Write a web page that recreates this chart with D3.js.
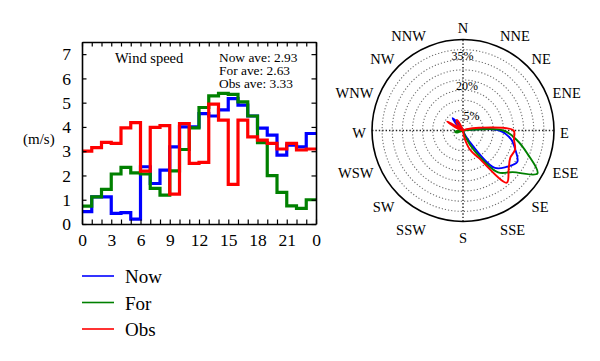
<!DOCTYPE html>
<html>
<head>
<meta charset="utf-8">
<script src="https://cdn.jsdelivr.net/npm/d3@7"></script>
<style>
body { margin: 0; background: #fff; }
text { font-family: "Liberation Serif", "Times New Roman", serif; fill: #000; }
</style>
</head>
<body>
<div id="chart"></div>
<script>
const width = 600;
const height = 361;

// hourly wind speed (m/s), hours 0..23
const hours = d3.range(24);
const nowSpeed = [0.51, 1.12, 1.12, 0.44, 0.47, 0.2, 2.36, 1.67, 2.22, 3.18, 4.0, 4.0,
                  4.55, 4.45, 4.7, 5.17, 4.9, 4.45, 3.95, 3.66, 2.84, 3.25, 3.18, 3.73];
const forSpeed = [0.74, 1.12, 1.43, 2.06, 2.33, 2.11, 2.06, 1.47, 1.19, 2.19, 3.07, 3.96,
                  4.8, 5.28, 5.38, 5.34, 5.03, 4.45, 3.35, 1.99, 1.3, 0.75, 0.64, 1.0];
const obsSpeed = [3.0, 3.15, 3.36, 3.32, 3.96, 4.18, 2.18, 3.98, 4.05, 1.23, 4.14, 2.5,
                  2.54, 4.94, 4.28, 1.63, 4.28, 3.59, 3.46, 3.32, 3.09, 3.32, 3.05, 3.09];

const seriesNames = ["Now", "For", "Obs"];
const seriesColors = ["#0000ff", "#008000", "#ff0000"];
const aveLabels = ["Now ave: 2.93", "For ave: 2.63", "Obs ave: 3.33"];
const xTickValues = [0, 3, 6, 9, 12, 15, 18, 21, 24];
const xTickLabels = ["0", "3", "6", "9", "12", "15", "18", "21", "0"];
const yTickValues = [0, 1, 2, 3, 4, 5, 6, 7];

// wind direction frequency (%), 10 degree bins clockwise from N
const dirAngles = d3.range(0, 360, 10);
const nowDir = [0, 0, 0, 0, 0, 0, 0, 0, 2, 18, 24, 27.5, 31, 28, 24, 6, 1, 0,
                0, 0, 0, 0, 0, 0, 0, 0, 0, 0, 0, 0, 0, 3, 8, 3, 0, 0];
const forDir = [0, 0, 0, 0, 0, 0, 0, 0, 0, 20, 27, 34, 42.5, 32, 27, 12, 3, 0,
                0, 0, 0, 0, 0, 0, 0, 3, 4, 2, 0, 0, 0, 0, 0, 0, 0, 0];
const obsDir = [0, 0, 0, 0, 0, 0, 0, 2, 8, 25, 25.6, 27.4, 27, 29.5, 33.7, 15.8, 10, 3,
                0, 0, 0, 0, 0, 0, 0, 0, 0, 0, 0, 3, 9, 2, 5, 6, 1, 0];
const compassLabels = ["N", "NNE", "NE", "ENE", "E", "ESE", "SE", "SSE",
                       "S", "SSW", "SW", "WSW", "W", "WNW", "NW", "NNW"];
const ringValues = [5, 10, 15, 20, 25, 30, 35, 40];
const ringLabels = [5, 20, 35];

const svg = d3.select("#chart")
    .append("svg")
    .attr("width", width)
    .attr("height", height);

// ---------- left: hourly wind speed ----------
const x = d3.scaleLinear().domain([0, 24]).range([82, 316]);
const y = d3.scaleLinear().domain([0, 7.5]).range([224, 42]);

const speedSeries = [nowSpeed, forSpeed, obsSpeed];
const step = d3.line()
    .x(d => x(d[0]))
    .y(d => y(d[1]))
    .curve(d3.curveStepAfter);

speedSeries.forEach((vals, k) => {
    const pts = hours.map((h, i) => [h, vals[i]]);
    pts.push([24, vals[vals.length - 1]]);
    svg.append("path")
        .attr("d", step(pts))
        .attr("fill", "none")
        .attr("stroke", seriesColors[k])
        .attr("stroke-width", 3.2);
});

const axisFont = g => g.attr("font-family", "Liberation Serif, serif").attr("font-size", 17.5);

svg.append("g")
    .attr("transform", `translate(0,${y(0)})`)
    .call(d3.axisBottom(x).tickValues(d3.range(0, 25)).tickSizeInner(-4.5).tickSizeOuter(0).tickPadding(10)
        .tickFormat(d => xTickValues.includes(d) ? xTickLabels[xTickValues.indexOf(d)] : ""))
    .call(axisFont);
svg.append("g")
    .attr("transform", `translate(0,${y(7.5)})`)
    .call(d3.axisTop(x).tickValues(d3.range(0, 25)).tickSizeInner(-4.5).tickSizeOuter(0).tickFormat(""));
svg.append("g")
    .attr("transform", `translate(${x(0)},0)`)
    .call(d3.axisLeft(y).tickValues(yTickValues).tickSizeInner(-4.5).tickSizeOuter(0).tickPadding(11))
    .call(axisFont);
svg.append("g")
    .attr("transform", `translate(${x(24)},0)`)
    .call(d3.axisRight(y).tickValues(yTickValues).tickSizeInner(-4.5).tickSizeOuter(0).tickFormat(""));

svg.selectAll(".domain").attr("stroke-width", 1.6);
svg.selectAll(".tick line").attr("stroke-width", 1.2);

svg.append("text")
    .attr("x", 23).attr("y", 144)
    .attr("font-size", 15)
    .text("(m/s)");

svg.append("text")
    .attr("x", 115).attr("y", 63)
    .attr("font-size", 14.5)
    .text("Wind speed");

svg.selectAll(".ave")
    .data(aveLabels)
    .enter()
    .append("text")
    .attr("x", 219)
    .attr("y", (d, i) => 62 + i * 12.8)
    .attr("font-size", 13.4)
    .text(d => d);

// legend
const legend = svg.selectAll(".legend")
    .data(seriesNames)
    .enter()
    .append("g")
    .attr("transform", (d, i) => `translate(82,${276 + i * 26.5})`);
legend.append("line")
    .attr("x1", 0).attr("x2", 32)
    .attr("stroke", (d, i) => seriesColors[i])
    .attr("stroke-width", 1.6);
legend.append("text")
    .attr("x", 43).attr("y", 7)
    .attr("font-size", 19)
    .text(d => d);

// ---------- right: wind direction rose ----------
const cx = 463;
const cy = 130.5;
const r = d3.scaleLinear().domain([0, 45]).range([0, 91]);
const rose = svg.append("g").attr("transform", `translate(${cx},${cy})`);

rose.selectAll(".ring")
    .data(ringValues)
    .enter()
    .append("circle")
    .attr("r", d => r(d))
    .attr("fill", "none")
    .attr("stroke", "#6e6e6e")
    .attr("stroke-width", 1.1)
    .attr("stroke-dasharray", "1.2,2");

[0, 90].forEach(a => {
    const t = a * Math.PI / 180;
    rose.append("line")
        .attr("x1", -r(45) * Math.sin(t)).attr("y1", r(45) * Math.cos(t))
        .attr("x2", r(45) * Math.sin(t)).attr("y2", -r(45) * Math.cos(t))
        .attr("stroke", "#222")
        .attr("stroke-width", 1.4)
        .attr("stroke-dasharray", "1.4,2");
});

rose.append("circle")
    .attr("r", r(45))
    .attr("fill", "none")
    .attr("stroke", "#000")
    .attr("stroke-width", 1.6);

rose.selectAll(".rlabel")
    .data(ringLabels)
    .enter()
    .append("text")
    .attr("x", d => 10 - r(d) * 0.15)
    .attr("y", d => -r(d) - 4)
    .attr("text-anchor", "middle")
    .attr("dominant-baseline", "central")
    .attr("font-size", 12)
    .attr("fill", "#333")
    .text(d => d + "%");

const radial = d3.lineRadial()
    .angle(d => d[0] * Math.PI / 180)
    .radius(d => r(d[1]))
    .curve(d3.curveCatmullRomClosed.alpha(0.5));

[nowDir, forDir, obsDir].forEach((vals, k) => {
    rose.append("path")
        .attr("d", radial(dirAngles.map((a, i) => [a, vals[i]])))
        .attr("fill", "none")
        .attr("stroke", seriesColors[k])
        .attr("stroke-width", 1.9);
});

// compass labels
const labelG = svg.append("g").attr("transform", `translate(${cx},133)`);
labelG.selectAll("text")
    .data(compassLabels)
    .enter()
    .append("text")
    .attr("x", (d, i) => 97 * Math.sin(i * Math.PI / 8))
    .attr("y", (d, i) => -105 * Math.cos(i * Math.PI / 8))
    .attr("text-anchor", (d, i) => i === 0 || i === 8 ? "middle" : (i < 8 ? "start" : "end"))
    .attr("dominant-baseline", "central")
    .attr("font-size", 14.5)
    .text(d => d);
</script>
</body>
</html>
